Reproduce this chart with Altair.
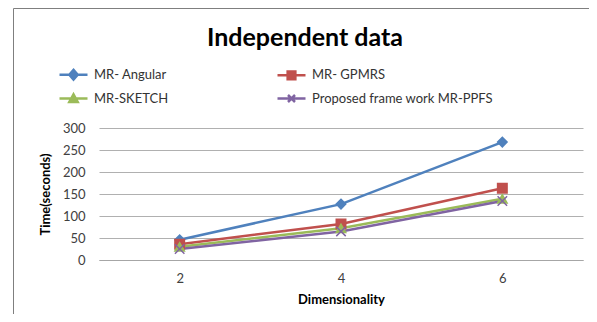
import altair as alt
import pandas as pd

dims = [2, 4, 6]
series_names = ["MR- Angular", "MR- GPMRS", "MR-SKETCH", "Proposed frame work MR-PPFS"]
angular = [46, 127, 268]
gpmrs = [36, 82, 163]
sketch = [30, 72, 139]
ppfs = [25, 65, 134]
colors = ["#4F81BD", "#C0504D", "#9BBB59", "#8064A2"]

rows = []
for name, vals in zip(series_names, [angular, gpmrs, sketch, ppfs]):
    for d, v in zip(dims, vals):
        rows.append({"dim": str(d), "time": v, "series": name, "legend": name})
df = pd.DataFrame(rows)

point_shapes = ["diamond", "square", "triangle-up", "M-1,-1L1,1M1,-1L-1,1"]
legend_shapes = [
    "M-2,0L2,0M0,-0.7L0.6,0L0,0.7L-0.6,0Z",
    "M-2,0L2,0M-0.55,-0.55H0.55V0.55H-0.55Z",
    "M-2,0L2,0M0,-0.6L0.6,0.5H-0.6Z",
    "M-2,0L2,0M-0.5,-0.5L0.5,0.5M0.5,-0.5L-0.5,0.5",
]

FONT = "Lato"
xenc = alt.X("dim:N", sort=[str(d) for d in dims], title="Dimensionality",
             scale=alt.Scale(padding=0.5),
             axis=alt.Axis(labelAngle=0, ticks=False, domainColor="#a6a6a6", labelPadding=12,
                           titlePadding=8, grid=False))
yenc = alt.Y("time:Q", title="Time(seconds)",
             scale=alt.Scale(domain=[0, 300], nice=False),
             axis=alt.Axis(values=[0, 50, 100, 150, 200, 250, 300], ticks=False, domain=False,
                           gridColor="#b0b0b0", labelPadding=14, titlePadding=10))
col_scale = alt.Scale(domain=series_names, range=colors)

lines = alt.Chart(df).mark_line(strokeWidth=2.5).encode(
    x=xenc, y=yenc,
    color=alt.Color("series:N", scale=col_scale, legend=None),
    order=alt.Order("dim:N"),
)

points = alt.Chart(df).mark_point(size=90, filled=True, opacity=1, strokeWidth=1.5).encode(
    x=xenc, y=yenc,
    fill=alt.Fill("series:N", scale=alt.Scale(domain=series_names, range=colors), legend=None),
    stroke=alt.Stroke("series:N", scale=alt.Scale(domain=series_names, range=colors), legend=None),
    shape=alt.Shape("series:N", scale=alt.Scale(domain=series_names, range=point_shapes), legend=None),
)

leg = alt.Legend(
    title=None, orient="none", legendX=-34, legendY=-62, columns=2, columnPadding=103,
    direction="horizontal",
    rowPadding=4, symbolSize=196, labelOffset=12, labelFont=FONT, labelFontSize=13,
    labelColor="#333333", symbolOpacity=1, symbolStrokeWidth=2.5, labelLimit=300,
)
legend_layer = alt.Chart(df).mark_point(size=0, opacity=0, filled=True).encode(
    x=xenc, y=yenc,
    fill=alt.Fill("legend:N", scale=alt.Scale(domain=series_names, range=colors), legend=leg),
    stroke=alt.Stroke("legend:N", scale=alt.Scale(domain=series_names, range=colors), legend=leg),
    shape=alt.Shape("legend:N", scale=alt.Scale(domain=series_names, range=legend_shapes), legend=leg),
)

border_df = pd.DataFrame({"k": ["frame"]})
left_border = alt.Chart(border_df).mark_rule(color="#7f7f7f", strokeWidth=1).encode(
    x=alt.value(-85.5), y=alt.value(-119.5), y2=alt.value(400))
top_border = alt.Chart(border_df).mark_rule(color="#7f7f7f", strokeWidth=1).encode(
    x=alt.value(-85.5), x2=alt.value(700), y=alt.value(-119.5))

chart = alt.layer(lines, points, legend_layer, left_border, top_border).resolve_scale(
    shape="independent", fill="independent", stroke="independent"
).properties(
    width=484, height=132,
    title=alt.TitleParams("Independent data", fontSize=25, font=FONT, fontWeight="bold",
                          color="#000000", anchor="middle", dx=-36, offset=-43),
    autosize=alt.AutoSizeParams(type="none"),
    padding={"left": 91, "top": 120, "right": 6, "bottom": 54},
).configure_axis(
    labelFont=FONT, labelFontSize=13, labelColor="#404040",
    titleFont=FONT, titleFontSize=13, titleFontWeight="bold", titleColor="#000000",
).configure_view(stroke=None)

chart.save("out.html", embed_options={"renderer": "svg", "actions": False})
